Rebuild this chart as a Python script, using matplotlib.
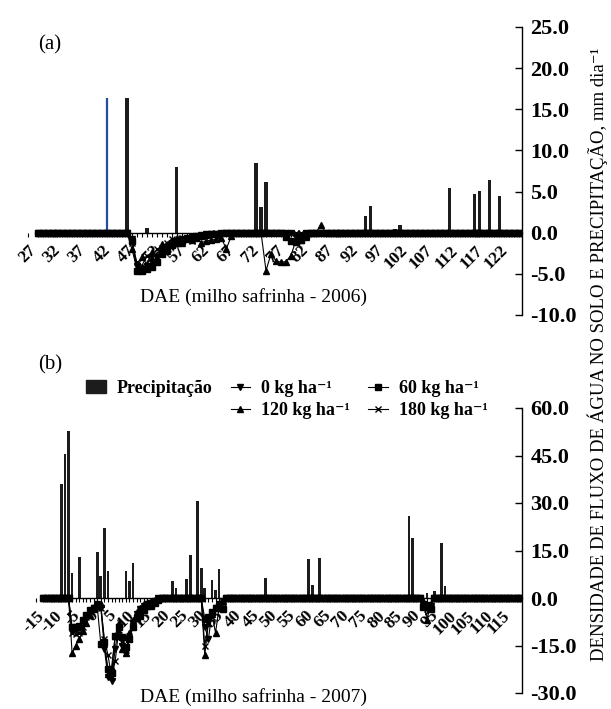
import numpy as np
import matplotlib
matplotlib.use("Agg")
import matplotlib.pyplot as plt
from matplotlib.lines import Line2D
from matplotlib.patches import Rectangle

plt.rcParams['font.family'] = ['Liberation Serif', 'DejaVu Serif']

# ---------------- (a) milho safrinha 2006 ----------------
a_first, a_last = 27, 126
a_data_start = 29
a_ticks = list(range(27, 123, 5))

a_rain_days = [47, 51, 57, 73, 74, 75, 95, 96, 101, 102, 112, 117, 118, 120, 122]
a_rain = [16.4, 0.6, 8.0, 8.5, 3.1, 6.2, 2.0, 3.2, 0.4, 0.9, 5.4, 4.7, 5.1, 6.4, 4.5]
a_blue_day, a_blue_val = 43, 16.4

a_0kg_days = [48, 49, 50, 51, 52, 53, 54, 55, 56, 57, 58, 59, 60, 61, 62, 63, 64, 65, 66, 81, 82]
a_0kg = [-0.8, -4.0, -4.4, -4.1, -3.6, -3.0, -2.3, -1.7, -1.3, -1.0, -0.8, -0.6, -0.5, -0.4,
         -0.3, -0.2, -0.2, -0.1, -0.1, -0.5, -0.7]
a_60kg_days = [48, 49, 50, 51, 52, 53, 54, 55, 56, 57, 58, 59, 60, 61, 62, 63, 64, 65,
               79, 80, 81, 82, 83]
a_60kg = [-1.0, -4.7, -4.6, -4.4, -4.2, -3.6, -2.6, -2.0, -1.5, -1.2, -1.0, -0.8, -0.6, -0.5,
          -0.4, -0.3, -0.2, -0.1, -0.5, -1.0, -1.1, -0.9, -0.4]
a_120kg_days = [48, 49, 50, 51, 52, 53, 54, 55, 56, 57, 58, 59, 60, 61, 62, 63, 64, 65, 66, 67, 68,
                75, 76, 77, 78, 79, 80, 81, 82, 83, 86]
a_120kg = [-2.0, -4.4, -3.0, -3.8, -2.4, -3.3, -1.4, -2.2, -0.9, -0.7, -1.2, -0.6, -0.9, -0.7,
           -1.2, -1.0, -0.9, -0.8, -0.6, -2.0, -0.4,
           -4.6, -2.6, -3.4, -3.6, -3.5, -2.8, -1.0, -0.9, -0.5, 0.9]
a_180kg_days = [48, 49, 50, 51, 52, 53, 54, 55, 56, 57, 58, 59, 60, 61, 62, 63, 64]
a_180kg = [-1.2, -3.6, -4.0, -2.8, -3.0, -2.0, -1.8, -1.2, -0.8, -0.9, -0.6, -0.8, -1.0, -0.6,
           -0.4, -0.3, -0.2]

# ---------------- (b) milho safrinha 2007 ----------------
b_first, b_last = -15, 120
b_data_start = -13
b_ticks = list(range(-15, 116, 5))

b_rain_days = [-8, -7, -6, -5, -3, 2, 3, 4, 5, 10, 11, 12, 23, 24, 25, 27, 28, 30, 31, 32,
               34, 35, 36, 49, 61, 62, 64, 65, 89, 90, 94, 96, 98, 99]
b_rain = [36.0, 45.5, 52.6, 8.0, 13.1, 14.5, 7.0, 22.0, 8.6, 8.6, 5.5, 11.2, 5.4, 3.3, 1.0,
          6.1, 13.5, 30.7, 9.6, 3.3, 5.8, 2.6, 9.2, 6.4, 12.2, 4.2, 12.5, 0.5, 25.8, 19.0,
          1.5, 2.3, 17.3, 3.8]

b_0kg_days = [-5, -4, -3, -2, -1, 0, 1, 2, 3, 4, 5, 6, 7, 8, 9, 10, 11, 12, 13, 14, 15, 16, 17, 18,
              32, 33, 34, 35, 36, 37, 93, 94, 95]
b_0kg = [-10.5, -10.0, -9.0, -7.5, -6.0, -4.5, -3.0, -2.0, -3.0, -16.0, -25.0, -26.3, -16.0,
         -9.0, -15.0, -17.0, -13.0, -8.0, -5.0, -3.5, -2.5, -2.0, -1.5, -1.0,
         -9.0, -13.0, -5.0, -3.0, -2.0, -1.0, -2.0, -3.0, -2.5]
b_60kg_days = [-5, -4, -3, -2, -1, 0, 1, 2, 3, 4, 5, 6, 7, 8, 9, 10, 11, 12, 13, 14, 15, 16, 17, 18, 19,
               32, 33, 34, 35, 36, 37, 93, 94, 95]
b_60kg = [-9.3, -9.3, -8.7, -7.0, -5.3, -3.7, -3.1, -2.6, -14.5, -14.0, -22.5, -23.8, -12.0,
          -9.3, -12.3, -15.6, -13.0, -9.0, -6.2, -5.8, -3.7, -2.6, -2.6, -1.5, -0.5,
          -6.5, -6.0, -4.5, -3.0, -2.5, -3.5, -2.8, -2.3, -3.4]
b_120kg_days = [-5, -4, -3, -2, -1, 0, 1, 2, 3, 4, 5, 6, 7, 8, 9, 10, 11, 12, 13, 14, 15, 16, 17, 18,
                32, 33, 34, 35, 36, 37, 93, 94, 95]
b_120kg = [-17.5, -15.0, -13.0, -10.5, -8.0, -5.5, -3.5, -2.5, -2.0, -14.0, -24.0, -22.0, -12.0,
           -8.0, -16.0, -17.5, -11.0, -7.0, -4.5, -3.0, -2.0, -1.5, -1.0, -0.5,
           -18.0, -8.0, -5.0, -11.0, -3.0, -1.0, -1.0, -7.0, -2.0]
b_180kg_days = [-5, -4, -3, -2, -1, 0, 1, 2, 3, 4, 5, 6, 7, 8, 9, 10, 11, 12, 13, 14, 15, 16, 17, 18,
                32, 33, 34, 35, 36, 37, 93, 94, 95]
b_180kg = [-11.0, -11.5, -11.0, -9.0, -6.0, -4.0, -3.0, -2.5, -3.0, -13.0, -18.0, -25.0, -20.0,
           -10.0, -14.0, -16.5, -12.0, -8.0, -6.0, -4.0, -3.0, -2.0, -1.5, -1.0,
           -15.0, -8.0, -6.0, -3.0, -2.0, -1.5, -2.0, -3.5, -3.0]

labels = ['0 kg ha⁻¹', '60 kg ha⁻¹', '120 kg ha⁻¹', '180 kg ha⁻¹']
markers = ['v', 's', '^', 'x']
bar_color = '#1c1c1c'


def full_series(start, last, days, vals):
    x = np.arange(start, last + 1)
    y = np.zeros(len(x))
    y[np.array(days) - start] = vals
    return x, y


def style_axis(ax, xlim, ylim, yticks, ticks, data_start):
    ax.set_xlim(*xlim)
    ax.set_ylim(*ylim)
    for s in ['left', 'top']:
        ax.spines[s].set_visible(False)
    ax.spines['bottom'].set_position(('data', 0))
    ax.spines['bottom'].set_bounds(data_start - 0.5, xlim[1])
    ax.spines['bottom'].set_linewidth(1.0)
    ax.spines['right'].set_linewidth(1.0)
    ax.yaxis.tick_right()
    ax.set_yticks(yticks)
    ax.set_yticklabels([f'{v:.1f}' for v in yticks], fontweight='bold', fontsize=16)
    ax.tick_params(axis='y', direction='in', length=5, width=1, pad=6)
    ax.set_xticks(ticks)
    ax.set_xticks(np.arange(data_start, int(xlim[1]) + 1), minor=True)
    ax.set_xticklabels([str(t) for t in ticks], rotation=45, ha='right', va='top',
                       rotation_mode='anchor', fontweight='bold', fontsize=12.5)
    ax.tick_params(axis='x', which='both', direction='out', length=3, width=0.8, pad=4)


fig = plt.figure(figsize=(6.11, 7.09), dpi=100)
W, H = 611.0, 709.0
ax1 = fig.add_axes([25.2 / W, (H - 315) / H, (521.7 - 25.2) / W, 288 / H])
ax2 = fig.add_axes([34.5 / W, (H - 693) / H, (522 - 34.5) / W, 285 / H])

# panel a
ax1.bar(a_rain_days, a_rain, width=0.7, color=bar_color, zorder=2)
ax1.vlines(a_blue_day, 0, a_blue_val, color='#1f4f9e', lw=1.6, zorder=2)
a_sets = [(a_0kg_days, a_0kg), (a_60kg_days, a_60kg), (a_120kg_days, a_120kg), (a_180kg_days, a_180kg)]
for (d, v), m in zip(a_sets, markers):
    x, y = full_series(a_data_start, a_last, d, v)
    ax1.plot(x, y, color='k', lw=0.8, marker=m, ms=4.5, mew=1.0, zorder=3)
style_axis(ax1, (a_first - 0.5, a_last + 0.5), (-10, 25), np.arange(-10, 26, 5), a_ticks, a_data_start)

# panel b
ax2.bar(b_rain_days, b_rain, width=0.75, color=bar_color, zorder=2)
b_sets = [(b_0kg_days, b_0kg), (b_60kg_days, b_60kg), (b_120kg_days, b_120kg), (b_180kg_days, b_180kg)]
for (d, v), m in zip(b_sets, markers):
    x, y = full_series(b_data_start, b_last, d, v)
    ax2.plot(x, y, color='k', lw=0.8, marker=m, ms=4.5, mew=1.0, zorder=3)
style_axis(ax2, (b_first - 0.5, b_last + 0.5), (-30, 60), np.arange(-30, 61, 15), b_ticks, b_data_start)

# texts
fig.text(38 / W, 1 - 45 / H, '(a)', fontsize=15, va='center', ha='left')
fig.text(38 / W, 1 - 365 / H, '(b)', fontsize=15, va='center', ha='left')
fig.text(253 / W, 1 - 297 / H, 'DAE (milho safrinha - 2006)', fontsize=14, ha='center', va='center')
fig.text(253 / W, 1 - 697 / H, 'DAE (milho safrinha - 2007)', fontsize=14, ha='center', va='center')
fig.text(598 / W, 0.5, 'DENSIDADE DE FLUXO DE ÁGUA NO SOLO E PRECIPITAÇÃO, mm dia⁻¹',
         rotation=90, ha='center', va='center', fontsize=13.5)

# legend
h_rain = Rectangle((0, 0), 1, 1, color=bar_color)
h_blank = Rectangle((0, 0), 1, 1, alpha=0)
h_lines = [Line2D([], [], color='k', lw=0.8, marker=m, ms=4.5, mew=1.0) for m in markers]
handles = [h_rain, h_blank, h_lines[0], h_lines[2], h_lines[1], h_lines[3]]
names = ['Precipitação', '', labels[0], labels[2], labels[1], labels[3]]
fig.legend(handles, names, ncol=3, loc='upper left', bbox_to_anchor=(86 / W, 1 - 380 / H),
           frameon=False, prop={'weight': 'bold', 'size': 13}, handlelength=1.1,
           handletextpad=0.6, columnspacing=1.0, labelspacing=0.3, borderpad=0, borderaxespad=0)

fig.savefig('out.png', dpi=100)
